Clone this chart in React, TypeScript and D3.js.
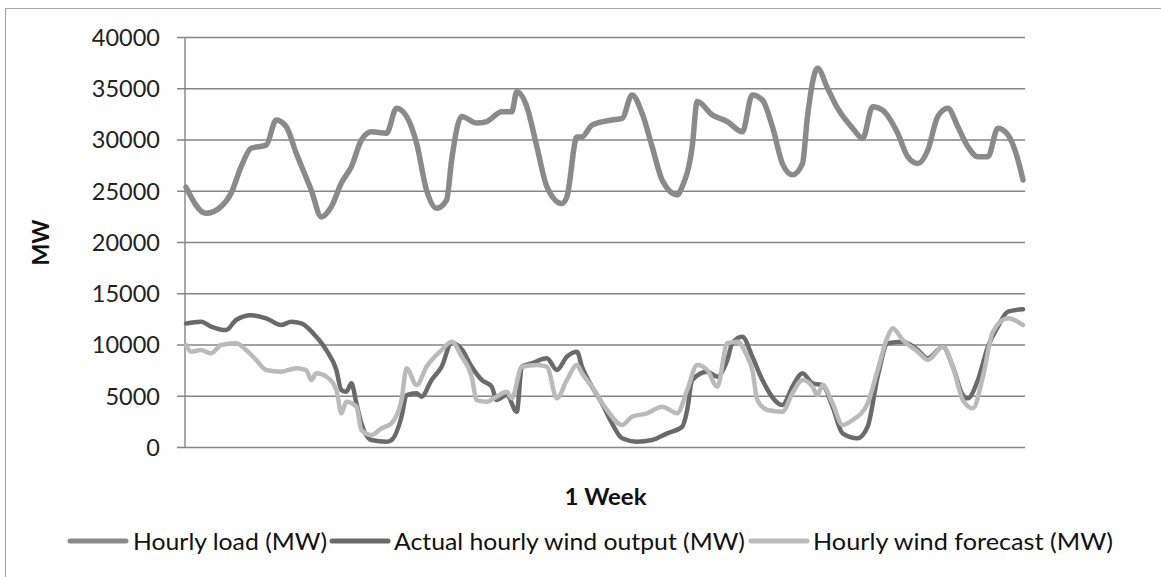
import React from "react";
import * as d3 from "d3";

// Hourly system load over one week (hour index, MW)
const loadHours = [0,4,7,9,11,13,16,18,20,22,25,27,29,31,33,35,37,40,42,44,46,48,50,52,53,55,58,60,63,65,66,68,70,72,75,76,78,79,81,85,87,89,91,93,95,98,99,101,102,105,108,111,113,115,117,119,121,123,124,126,128,130,133,135,137,139,142,144,146,148,150,152,154,156,158,160,162,164,166,167];
const loadMW = [25400,22850,23500,24800,27400,29200,29500,31950,31300,28700,25100,22500,23500,25800,27400,30000,30800,30650,33100,32300,29700,25100,23350,24150,28050,32300,31650,31800,32750,32750,34700,33250,29350,25450,23800,24450,30300,30300,31450,31950,32100,34400,32600,29350,26100,24650,25450,29350,33750,32450,31800,30800,34400,33900,31300,27700,26600,27700,32300,37000,35050,33100,31150,30150,33250,32900,30650,28370,27700,29000,32300,33100,31300,29350,28370,28370,31150,30500,28050,26100];

// Actual hourly wind output
const windHours = [0,3,5,8,10,13,16,19,21,23,26,28,30,31,32,33,34,35,37,40,41,43,44,46,47,49,51,53,55,57,59,61,62,64,66,67,69,72,74,76,78,79,81,83,85,87,90,93,96,99,100,101,104,106,108,109,111,113,115,119,121,123,125,127,129,131,134,136,138,140,143,146,148,151,153,155,156,158,160,162,164,167];
const windMW = [12100,12270,11800,11460,12440,12900,12600,11950,12270,12100,10800,9500,7560,5600,5440,6260,4300,2360,730,570,730,3000,5120,5290,4960,6590,7880,10200,9600,7880,6590,5930,4630,5120,3490,7880,8210,8700,7560,8860,9350,7880,5930,4310,2360,900,570,730,1380,2030,3660,6590,7400,6910,8540,10170,10810,8860,6590,4150,5930,7240,6260,6100,3980,1380,900,2030,6910,10170,10320,9510,8700,9830,7880,5120,4800,6590,9830,11800,13250,13480];

// Hourly wind forecast
const forecastHours = [0,1,3,5,7,10,12,14,16,19,22,24,25,26,28,30,31,32,34,35,37,39,41,43,44,46,48,51,53,55,57,58,60,62,64,65,67,70,72,74,76,78,79,81,84,87,89,92,95,98,100,102,104,106,108,110,112,113,114,116,119,121,123,125,126,127,129,131,133,136,138,140,141,143,146,148,151,153,155,157,159,161,164,167];
const forecastMW = [10000,9350,9510,9190,10000,10170,9510,8540,7560,7400,7730,7560,6590,7240,6910,5610,3340,4470,3980,1700,1220,1870,2360,4630,7730,6100,7880,9510,10320,8860,6910,4630,4470,4960,5440,4800,7880,8050,7880,4800,6590,8050,7240,5930,3660,2200,3000,3340,3980,3340,5610,8050,7560,5930,10170,10320,8860,7560,4630,3660,3490,5290,6590,5930,5120,6100,4310,2200,2680,4310,7560,10810,11630,10490,9350,8540,9830,7880,4630,3820,6910,11300,12600,11950];

const yTicks = [0, 5000, 10000, 15000, 20000, 25000, 30000, 35000, 40000];
const seriesNames = ["Hourly load (MW)", "Actual hourly wind output (MW)", "Hourly wind forecast (MW)"];

const W = 1161;
const H = 577;
const FONT = "Lato, 'Open Sans', sans-serif";

export default function App() {
  const x = d3.scaleLinear().domain([0, 167]).range([186, 1023]);
  const y = d3.scaleLinear().domain([0, 40000]).range([447.5, 37.5]);

  const line = d3
    .line<[number, number]>()
    .x((d) => x(d[0]))
    .y((d) => y(d[1]))
    .curve(d3.curveMonotoneX);

  const zip = (hs: number[], vs: number[]) => hs.map((h, i) => [h, vs[i]] as [number, number]);

  const series = [
    { name: seriesNames[0], pts: zip(loadHours, loadMW), color: "#8a8a8a", width: 5.5 },
    { name: seriesNames[1], pts: zip(windHours, windMW), color: "#6a6a6a", width: 4.5 },
    { name: seriesNames[2], pts: zip(forecastHours, forecastMW), color: "#bababa", width: 4.5 },
  ];

  const legend = [
    { sx: 70, tx: 133, tw: 194 },
    { sx: 332, tx: 394, tw: 351 },
    { sx: 751, tx: 813, tw: 300 },
  ];

  const [x0, x1] = x.range();

  return (
    <svg
      width={W}
      height={H}
      style={{ position: "absolute", left: 0, top: 0, background: "#fff" }}
      fontFamily={FONT}
    >
      {/* chart border */}
      <line x1={5} y1={8.5} x2={W} y2={8.5} stroke="#a8a8a8" strokeWidth={1.2} />
      <line x1={5.5} y1={8} x2={5.5} y2={H} stroke="#a8a8a8" strokeWidth={1.2} />

      {/* gridlines with outside ticks */}
      {yTicks.map((t) => (
        <g key={t}>
          <line x1={177} x2={x1 + 2} y1={y(t)} y2={y(t)} stroke="#858585" strokeWidth={1.4} />
          <text
            x={160}
            y={y(t)}
            dy="0.36em"
            textAnchor="end"
            fontSize={23.5}
            fill="#222"
          >
            {t}
          </text>
        </g>
      ))}
      {/* value axis line */}
      <line x1={185} x2={185} y1={y(40000)} y2={y(0)} stroke="#858585" strokeWidth={1.4} />

      {/* series */}
      {series.map((s) => (
        <path
          key={s.name}
          d={line(s.pts) || ""}
          fill="none"
          stroke={s.color}
          strokeWidth={s.width}
          strokeLinejoin="round"
          strokeLinecap="round"
        />
      ))}

      {/* axis titles */}
      <text
        transform={`translate(49, ${(y(40000) + y(0)) / 2}) rotate(-90)`}
        textAnchor="middle"
        fontSize={23}
        fontWeight="bold"
        fill="#111"
      >
        MW
      </text>
      <text
        x={(x0 + x1) / 2 + 1}
        y={505}
        textAnchor="middle"
        fontSize={22}
        fontWeight="bold"
        fill="#111"
        textLength={82}
        lengthAdjust="spacingAndGlyphs"
      >
        1 Week
      </text>

      {/* legend */}
      {series.map((s, i) => (
        <g key={"lg" + i}>
          <line
            x1={legend[i].sx}
            x2={legend[i].sx + 56}
            y1={541}
            y2={541}
            stroke={s.color}
            strokeWidth={5}
            strokeLinecap="round"
          />
          <text
            x={legend[i].tx}
            y={550}
            fontSize={24}
            fill="#111"
            textLength={legend[i].tw}
            lengthAdjust="spacingAndGlyphs"
          >
            {s.name}
          </text>
        </g>
      ))}
    </svg>
  );
}
